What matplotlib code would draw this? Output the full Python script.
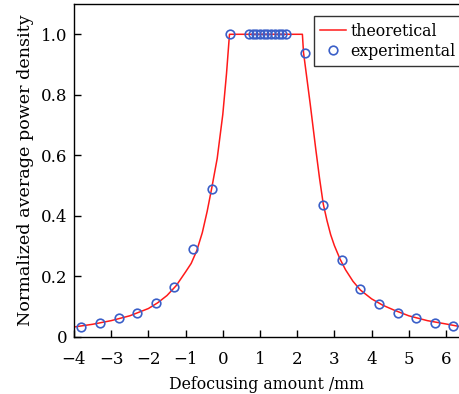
import matplotlib
matplotlib.use("Agg")
import matplotlib.pyplot as plt
from matplotlib.ticker import FuncFormatter

plt.rcParams["font.family"] = ["DejaVu Serif"]
plt.rcParams["mathtext.fontset"] = "dejavuserif"

# experimental points
exp_x = [-3.8, -3.3, -2.8, -2.3, -1.8, -1.3, -0.8, -0.3, 0.2,
         0.7, 0.8, 0.9, 1.0, 1.1, 1.2, 1.3, 1.4, 1.5, 1.6, 1.7,
         2.2, 2.7, 3.2, 3.7, 4.2, 4.7, 5.2, 5.7, 6.2]
exp_y = [0.034, 0.047, 0.062, 0.079, 0.111, 0.164, 0.29, 0.488, 1.0,
         1.0, 1.0, 1.0, 1.0, 1.0, 1.0, 1.0, 1.0, 1.0, 1.0, 1.0,
         0.937, 0.437, 0.254, 0.159, 0.110, 0.080, 0.062, 0.047, 0.036]

# theoretical curve
theo_x = [-4.0, -3.5, -3.0, -2.5, -2.0, -1.75, -1.5, -1.25, -1.0, -0.85,
          -0.7, -0.55, -0.42, -0.3, -0.15, 0.0, 0.1, 0.18, 2.14, 2.17,
          2.35, 2.5, 2.6, 2.7, 2.8, 2.9, 3.0, 3.15, 3.3, 3.5, 3.7,
          4.0, 4.3, 4.6, 5.0, 5.5, 6.0, 6.35]
theo_y = [0.033, 0.042, 0.054, 0.070, 0.094, 0.113, 0.137, 0.170, 0.215, 0.243,
          0.285, 0.345, 0.415, 0.49, 0.59, 0.735, 0.87, 1.0, 1.0, 0.94,
          0.77, 0.62, 0.525, 0.44, 0.385, 0.338, 0.302, 0.258, 0.222, 0.184, 0.155,
          0.126, 0.105, 0.089, 0.070, 0.054, 0.043, 0.035]

x_ticks = [-4, -3, -2, -1, 0, 1, 2, 3, 4, 5, 6]
y_ticks = [0, 0.2, 0.4, 0.6, 0.8, 1.0]

fig = plt.figure(figsize=(4.59, 3.94), dpi=100)
ax = fig.add_axes([0.1612, 0.1447, 0.8388, 0.8451])

ax.plot(theo_x, theo_y, color="#ff1a1a", lw=1.1, label="theoretical")
ax.plot(exp_x, exp_y, ls="none", marker="o", ms=6.2, mfc="none",
        mec="#3a5fc8", mew=1.2, label="experimental")

ax.set_xlim(-4, 6.35)
ax.set_ylim(0, 1.1)
ax.set_xticks(x_ticks)
ax.set_yticks(y_ticks)
ax.xaxis.set_major_formatter(FuncFormatter(lambda v, p: f"{v:.0f}".replace("-", "\u2212")))
ax.yaxis.set_major_formatter(FuncFormatter(lambda v, p: "0" if v == 0 else f"{v:.1f}"))
ax.tick_params(direction="in", length=5, width=1, labelsize=12)
ax.tick_params(axis="x", pad=10)
ax.tick_params(axis="y", pad=5)
ax.spines["right"].set_visible(False)
for s in ["top", "left", "bottom"]:
    ax.spines[s].set_linewidth(1.0)

ax.set_xlabel("Defocusing amount /mm", fontsize=11.3, labelpad=6)
ax.set_ylabel("Normalized average power density", fontsize=12.6, labelpad=5)

leg = ax.legend(loc="upper left", bbox_to_anchor=(0.623, 0.963), borderaxespad=0,
                fontsize=11.3, frameon=True, fancybox=False, handlelength=1.65,
                handletextpad=0.3, borderpad=0.4, labelspacing=0.2)
leg.get_frame().set_edgecolor("black")
leg.get_frame().set_linewidth(1.0)

fig.savefig("out.png", dpi=100)
